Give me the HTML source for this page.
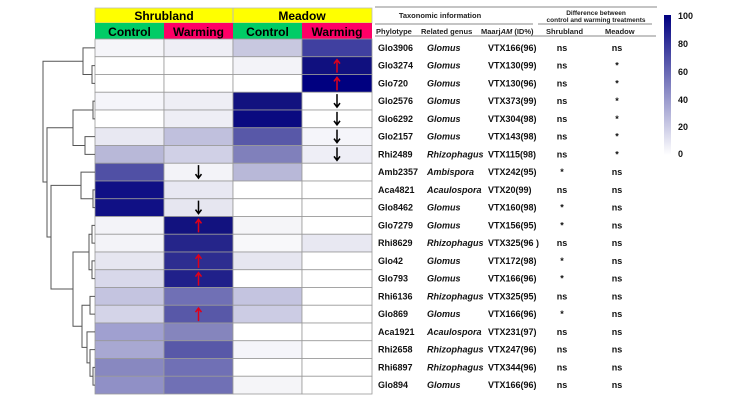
<!DOCTYPE html>
<html><head><meta charset="utf-8"><style>
body{margin:0;background:#fff;width:750px;height:400px;overflow:hidden;font-family:"Liberation Sans",Arial,sans-serif}
</style></head><body>
<svg width="750" height="400" viewBox="0 0 750 400" xmlns="http://www.w3.org/2000/svg" font-family="Liberation Sans, Arial, sans-serif">
<defs>
<linearGradient id="cb" x1="0" y1="1" x2="0" y2="0">
<stop offset="0" stop-color="#ffffff"/><stop offset="1" stop-color="#000080"/>
</linearGradient>
</defs>
<rect x="95" y="8" width="277" height="15" fill="#ffff00" stroke="#bbb" stroke-width="0.8"/>
<line x1="233" y1="8" x2="233" y2="23" stroke="#bbb"/>
<text x="164" y="20" font-size="12" font-weight="bold" text-anchor="middle">Shrubland</text>
<text x="302" y="20" font-size="12" font-weight="bold" text-anchor="middle">Meadow</text>
<rect x="95" y="23" width="69" height="16" fill="#00cc66"/>
<rect x="164" y="23" width="69" height="16" fill="#ff0066"/>
<rect x="233" y="23" width="69" height="16" fill="#00cc66"/>
<rect x="302" y="23" width="70" height="16" fill="#ff0066"/>
<g font-size="12" font-weight="bold" text-anchor="middle">
<text x="129.5" y="36">Control</text><text x="198.5" y="36">Warming</text>
<text x="267.5" y="36">Control</text><text x="337" y="36">Warming</text>
</g>
<g id="heat" stroke="#999" stroke-width="0.8"></g>
<g id="arrows"></g>
<path fill="none" stroke="#555" stroke-width="1" d="
M95 65.6 H92 V83.4 H95 M95 47.9 H83 V74.5 H92
M95 101.1 H93 V118.9 H95 M95 136.6 H85 V154.4 H95 M93 110 H73 V145.5 H85
M95 189.9 H93 V207.6 H95 M95 172.1 H81 V198.7 H93
M95 225.4 H92 V243.1 H95 M95 260.9 H92 V278.6 H95 M92 234.2 H89 V269.7 H92
M95 296.4 H90 V314.1 H95
M95 367.4 H93 V385.1 H95 M95 349.6 H90 V376.2 H93 M95 331.9 H87 V362.9 H90
M90 305.2 H82 V347.4 H87 M89 252 H73 V326.3 H82
M81 185.4 H51 V289 H73 M73 127.7 H47 V237 H51 M83 61.2 H43 V182 H47"/>
<g stroke="#888" stroke-width="1">
<line x1="375" y1="7" x2="657" y2="7"/>
<line x1="375" y1="24" x2="533" y2="24"/>
<line x1="538" y1="24" x2="652" y2="24"/>
<line x1="375" y1="36" x2="656" y2="36"/>
</g>
<g font-size="7.5" font-weight="bold" fill="#222">
<text x="440" y="18" text-anchor="middle">Taxonomic information</text>
<text x="596" y="15" text-anchor="middle" font-size="6.5">Difference between</text>
<text x="596" y="22" text-anchor="middle" font-size="6.5">control and warming treatments</text>
<text x="376" y="34">Phylotype</text>
<text x="421" y="34">Related genus</text>
<text x="481" y="34">Maarj<tspan font-style="italic">AM</tspan> (ID%)</text>
<text x="546" y="34">Shrubland</text>
<text x="605" y="34">Meadow</text>
</g>
<g id="tbl" font-size="9" font-weight="bold" fill="#111"></g>
<rect x="664" y="15" width="7" height="140" fill="url(#cb)"/>
<g font-size="9" font-weight="bold" fill="#111">
<text x="678" y="19">100</text><text x="678" y="47">80</text><text x="678" y="75">60</text>
<text x="678" y="103">40</text><text x="678" y="130">20</text><text x="678" y="157">0</text>
</g>
</svg>
<script>
var rows=[
["Glo3906","Glomus","VTX166(96)","ns","ns",["#f5f5f9","#eeeef5","#c8c8e0","#4040a0"],[0,0,0,0]],
["Glo3274","Glomus","VTX130(99)","ns","*",["#fff","#fff","#f3f3f8","#10107f"],[0,0,0,1]],
["Glo720","Glomus","VTX130(96)","ns","*",["#fff","#fff","#fff","#000080"],[0,0,0,1]],
["Glo2576","Glomus","VTX373(99)","ns","*",["#f5f5fa","#eeeef5","#12127f","#fff"],[0,0,0,-1]],
["Glo6292","Glomus","VTX304(98)","ns","*",["#fff","#eeeef5","#0a0a80","#fff"],[0,0,0,-1]],
["Glo2157","Glomus","VTX143(98)","ns","*",["#e8e8f2","#c0c0dd","#5858a8","#f5f5fa"],[0,0,0,-1]],
["Rhi2489","Rhizophagus","VTX115(98)","ns","*",["#b8b8d8","#d0d0e6","#8080bb","#eeeef6"],[0,0,0,-1]],
["Amb2357","Ambispora","VTX242(95)","*","ns",["#5050a5","#f3f3f8","#b8b8d8","#fff"],[0,-1,0,0]],
["Aca4821","Acaulospora","VTX20(99)","ns","ns",["#101085","#e8e8f2","#fff","#fff"],[0,0,0,0]],
["Glo8462","Glomus","VTX160(98)","*","ns",["#101085","#e6e6f0","#fff","#fff"],[0,-1,0,0]],
["Glo7279","Glomus","VTX156(95)","*","ns",["#f3f3f8","#12127f","#f5f5f8","#fff"],[0,1,0,0]],
["Rhi8629","Rhizophagus","VTX325(96 )","ns","ns",["#f3f3f8","#25258a","#f8f8fa","#e8e8f2"],[0,0,0,0]],
["Glo42","Glomus","VTX172(98)","*","ns",["#e6e6f0","#2d2d90","#e6e6f0","#fff"],[0,1,0,0]],
["Glo793","Glomus","VTX166(96)","*","ns",["#d8d8ea","#20208a","#fff","#fff"],[0,1,0,0]],
["Rhi6136","Rhizophagus","VTX325(95)","ns","ns",["#c4c4e0","#7070b5","#c4c4e0","#fff"],[0,0,0,0]],
["Glo869","Glomus","VTX166(96)","*","ns",["#d4d4e8","#5858a8","#ccccE4","#fff"],[0,1,0,0]],
["Aca1921","Acaulospora","VTX231(97)","ns","ns",["#a0a0d0","#8585bd","#fff","#fff"],[0,0,0,0]],
["Rhi2658","Rhizophagus","VTX247(96)","ns","ns",["#a8a8d2","#5858a8","#f5f5fa","#fff"],[0,0,0,0]],
["Rhi6897","Rhizophagus","VTX344(96)","ns","ns",["#8888c0","#7070b5","#fff","#fff"],[0,0,0,0]],
["Glo894","Glomus","VTX166(96)","ns","ns",["#9090c6","#7070b5","#f5f5f8","#fff"],[0,0,0,0]]];
var NS="http://www.w3.org/2000/svg",h=document.getElementById("heat"),a=document.getElementById("arrows"),t=document.getElementById("tbl");
var xs=[95,164,233,302],ws=[69,69,69,70],rh=17.75;
function el(n,at,p,tx){var e=document.createElementNS(NS,n);for(var k in at)e.setAttribute(k,at[k]);if(tx!=null)e.textContent=tx;p.appendChild(e);return e;}
rows.forEach(function(r,i){var y=39+i*rh,c=y+rh/2;
for(var j=0;j<4;j++){el("rect",{x:xs[j],y:y,width:ws[j],height:rh,fill:r[5][j]},h);
var d=r[6][j];if(d){var cx=xs[j]+ws[j]/2,col=d>0?"#e0001a":"#000";
if(d>0){el("path",{d:"M"+cx+" "+(c+7)+" V"+(c-6)+" M"+(cx-3)+" "+(c-2)+" L"+cx+" "+(c-6)+" L"+(cx+3)+" "+(c-2),stroke:col,"stroke-width":1.5,fill:"none"},a);}
else{el("path",{d:"M"+cx+" "+(c-7)+" V"+(c+6)+" M"+(cx-3)+" "+(c+2)+" L"+cx+" "+(c+6)+" L"+(cx+3)+" "+(c+2),stroke:col,"stroke-width":1.5,fill:"none"},a);}}}
var ty=c+3;
el("text",{x:378,y:ty},t,r[0]);
el("text",{x:427,y:ty,"font-style":"italic"},t,r[1]);
el("text",{x:488,y:ty},t,r[2]);
el("text",{x:562,y:ty,"text-anchor":"middle"},t,r[3]);
el("text",{x:617,y:ty,"text-anchor":"middle"},t,r[4]);
});
</script>
</body></html>
